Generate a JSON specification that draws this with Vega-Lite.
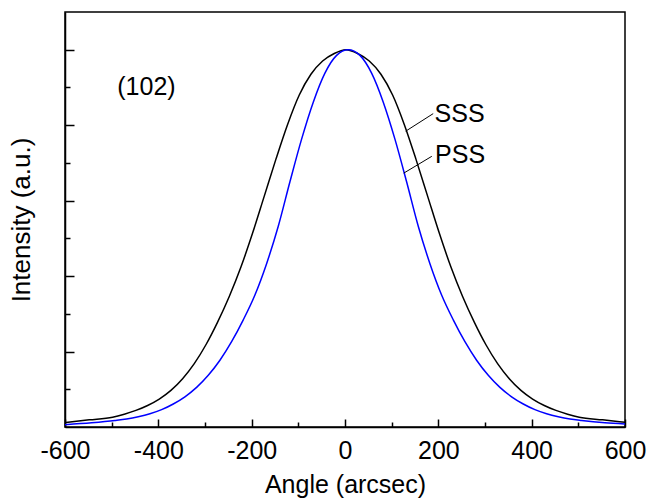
{
  "$schema": "https://vega.github.io/schema/vega-lite/v6.json",
  "width": 560,
  "height": 415,
  "autosize": {"type": "none"},
  "padding": {"left": 65, "top": 12, "right": 23, "bottom": 74},
  "background": "white",
  "config": {
    "font": "Liberation Sans",
    "view": {"stroke": "black", "strokeWidth": 1.5},
    "axis": {
      "grid": false,
      "labelFont": "Liberation Sans",
      "titleFont": "Liberation Sans",
      "labelFontSize": 25,
      "titleFontSize": 25,
      "titleFontWeight": "normal",
      "labelColor": "black",
      "titleColor": "black",
      "domainColor": "black",
      "tickColor": "black",
      "domainWidth": 1.5,
      "tickWidth": 1.5
    }
  },
  "datasets": {
    "curves": [
      {"angle": -600, "intensity": 0.012, "series": "SSS"},
      {"angle": -548, "intensity": 0.019, "series": "SSS"},
      {"angle": -498, "intensity": 0.026, "series": "SSS"},
      {"angle": -473, "intensity": 0.034, "series": "SSS"},
      {"angle": -448, "intensity": 0.044, "series": "SSS"},
      {"angle": -423, "intensity": 0.057, "series": "SSS"},
      {"angle": -398, "intensity": 0.074, "series": "SSS"},
      {"angle": -373, "intensity": 0.097, "series": "SSS"},
      {"angle": -348, "intensity": 0.128, "series": "SSS"},
      {"angle": -323, "intensity": 0.168, "series": "SSS"},
      {"angle": -298, "intensity": 0.218, "series": "SSS"},
      {"angle": -273, "intensity": 0.278, "series": "SSS"},
      {"angle": -248, "intensity": 0.346, "series": "SSS"},
      {"angle": -223, "intensity": 0.424, "series": "SSS"},
      {"angle": -198, "intensity": 0.514, "series": "SSS"},
      {"angle": -173, "intensity": 0.612, "series": "SSS"},
      {"angle": -148, "intensity": 0.71, "series": "SSS"},
      {"angle": -123, "intensity": 0.802, "series": "SSS"},
      {"angle": -98, "intensity": 0.88, "series": "SSS"},
      {"angle": -73, "intensity": 0.935, "series": "SSS"},
      {"angle": -48, "intensity": 0.97, "series": "SSS"},
      {"angle": -23, "intensity": 0.99, "series": "SSS"},
      {"angle": 2, "intensity": 1.0, "series": "SSS"},
      {"angle": 27, "intensity": 0.99, "series": "SSS"},
      {"angle": 52, "intensity": 0.97, "series": "SSS"},
      {"angle": 77, "intensity": 0.935, "series": "SSS"},
      {"angle": 102, "intensity": 0.88, "series": "SSS"},
      {"angle": 127, "intensity": 0.802, "series": "SSS"},
      {"angle": 152, "intensity": 0.71, "series": "SSS"},
      {"angle": 177, "intensity": 0.612, "series": "SSS"},
      {"angle": 202, "intensity": 0.514, "series": "SSS"},
      {"angle": 227, "intensity": 0.424, "series": "SSS"},
      {"angle": 252, "intensity": 0.346, "series": "SSS"},
      {"angle": 277, "intensity": 0.278, "series": "SSS"},
      {"angle": 302, "intensity": 0.218, "series": "SSS"},
      {"angle": 327, "intensity": 0.168, "series": "SSS"},
      {"angle": 352, "intensity": 0.128, "series": "SSS"},
      {"angle": 377, "intensity": 0.097, "series": "SSS"},
      {"angle": 402, "intensity": 0.074, "series": "SSS"},
      {"angle": 427, "intensity": 0.057, "series": "SSS"},
      {"angle": 452, "intensity": 0.044, "series": "SSS"},
      {"angle": 477, "intensity": 0.034, "series": "SSS"},
      {"angle": 502, "intensity": 0.026, "series": "SSS"},
      {"angle": 552, "intensity": 0.019, "series": "SSS"},
      {"angle": 600, "intensity": 0.0125, "series": "SSS"},
      {"angle": -600, "intensity": 0.006, "series": "PSS"},
      {"angle": -543, "intensity": 0.011, "series": "PSS"},
      {"angle": -493, "intensity": 0.017, "series": "PSS"},
      {"angle": -468, "intensity": 0.021, "series": "PSS"},
      {"angle": -443, "intensity": 0.027, "series": "PSS"},
      {"angle": -418, "intensity": 0.035, "series": "PSS"},
      {"angle": -393, "intensity": 0.046, "series": "PSS"},
      {"angle": -368, "intensity": 0.061, "series": "PSS"},
      {"angle": -343, "intensity": 0.08, "series": "PSS"},
      {"angle": -318, "intensity": 0.105, "series": "PSS"},
      {"angle": -293, "intensity": 0.137, "series": "PSS"},
      {"angle": -268, "intensity": 0.177, "series": "PSS"},
      {"angle": -243, "intensity": 0.226, "series": "PSS"},
      {"angle": -218, "intensity": 0.284, "series": "PSS"},
      {"angle": -193, "intensity": 0.35, "series": "PSS"},
      {"angle": -168, "intensity": 0.433, "series": "PSS"},
      {"angle": -143, "intensity": 0.532, "series": "PSS"},
      {"angle": -118, "intensity": 0.65, "series": "PSS"},
      {"angle": -93, "intensity": 0.763, "series": "PSS"},
      {"angle": -68, "intensity": 0.861, "series": "PSS"},
      {"angle": -43, "intensity": 0.938, "series": "PSS"},
      {"angle": -18, "intensity": 0.985, "series": "PSS"},
      {"angle": 7, "intensity": 1.0, "series": "PSS"},
      {"angle": 32, "intensity": 0.985, "series": "PSS"},
      {"angle": 57, "intensity": 0.938, "series": "PSS"},
      {"angle": 82, "intensity": 0.861, "series": "PSS"},
      {"angle": 107, "intensity": 0.763, "series": "PSS"},
      {"angle": 132, "intensity": 0.65, "series": "PSS"},
      {"angle": 157, "intensity": 0.532, "series": "PSS"},
      {"angle": 182, "intensity": 0.433, "series": "PSS"},
      {"angle": 207, "intensity": 0.35, "series": "PSS"},
      {"angle": 232, "intensity": 0.284, "series": "PSS"},
      {"angle": 257, "intensity": 0.226, "series": "PSS"},
      {"angle": 282, "intensity": 0.177, "series": "PSS"},
      {"angle": 307, "intensity": 0.137, "series": "PSS"},
      {"angle": 332, "intensity": 0.105, "series": "PSS"},
      {"angle": 357, "intensity": 0.08, "series": "PSS"},
      {"angle": 382, "intensity": 0.061, "series": "PSS"},
      {"angle": 407, "intensity": 0.046, "series": "PSS"},
      {"angle": 432, "intensity": 0.035, "series": "PSS"},
      {"angle": 457, "intensity": 0.027, "series": "PSS"},
      {"angle": 482, "intensity": 0.021, "series": "PSS"},
      {"angle": 507, "intensity": 0.017, "series": "PSS"},
      {"angle": 557, "intensity": 0.011, "series": "PSS"},
      {"angle": 600, "intensity": 0.008, "series": "PSS"}
    ],
    "labels": [
      {"angle": -488, "intensity": 0.9, "text": "(102)"},
      {"angle": 192, "intensity": 0.8306, "text": "SSS"},
      {"angle": 193, "intensity": 0.7214, "text": "PSS"}
    ],
    "leaders": [
      {"angle": 189, "intensity": 0.8306, "angle2": 130, "intensity2": 0.784},
      {"angle": 186, "intensity": 0.7175, "angle2": 126, "intensity2": 0.673}
    ]
  },
  "layer": [
    {
      "data": {"name": "curves"},
      "mark": {"type": "line", "interpolate": "monotone", "strokeWidth": 1.5, "clip": true},
      "encoding": {
        "x": {
          "field": "angle",
          "type": "quantitative",
          "scale": {"domain": [-600, 600], "nice": false, "zero": false},
          "axis": {
            "title": "Angle (arcsec)",
            "values": [-600, -500, -400, -300, -200, -100, 0, 100, 200, 300, 400, 500, 600],
            "labelExpr": "datum.value % 200 == 0 ? '' + datum.value : ''",
            "tickSize": {"condition": {"test": "datum.value % 200 == 0", "value": -8}, "value": -5},
            "labelPadding": 19,
            "titlePadding": 9,
            "labelFlush": false
          }
        },
        "y": {
          "field": "intensity",
          "type": "quantitative",
          "scale": {"domain": [0, 1.1], "nice": false},
          "axis": {
            "title": "Intensity (a.u.)",
            "titleFontSize": 26,
            "values": [0.1, 0.2, 0.3, 0.4, 0.5, 0.6, 0.7, 0.8, 0.9, 1.0],
            "labels": false,
            "tickSize": {"condition": {"test": "round(datum.value * 10) % 2 == 0", "value": -9}, "value": -5},
            "titlePadding": 30
          }
        },
        "color": {
          "field": "series",
          "type": "nominal",
          "scale": {"domain": ["SSS", "PSS"], "range": ["#000000", "#0000ff"]},
          "legend": null
        }
      }
    },
    {
      "data": {"name": "leaders"},
      "mark": {"type": "rule", "color": "black", "strokeWidth": 1},
      "encoding": {
        "x": {"field": "angle", "type": "quantitative"},
        "y": {"field": "intensity", "type": "quantitative"},
        "x2": {"field": "angle2"},
        "y2": {"field": "intensity2"}
      }
    },
    {
      "data": {"name": "labels"},
      "mark": {"type": "text", "fontSize": 25, "font": "Liberation Sans", "baseline": "middle", "align": "left", "color": "black"},
      "encoding": {
        "x": {"field": "angle", "type": "quantitative"},
        "y": {"field": "intensity", "type": "quantitative"},
        "text": {"field": "text"}
      }
    }
  ]
}
